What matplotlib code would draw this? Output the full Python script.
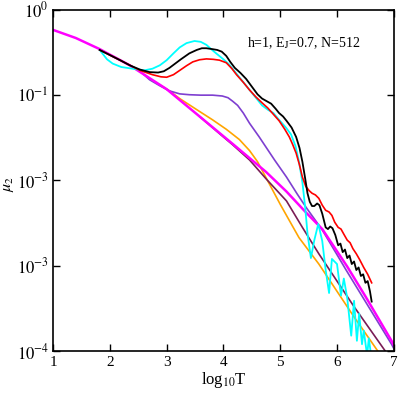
import matplotlib
matplotlib.use("Agg")
import matplotlib.pyplot as plt
import numpy as np

plt.rcParams["font.family"] = ["Liberation Serif", "DejaVu Serif"]
plt.rcParams["mathtext.fontset"] = "stix"

# curves: x = log10 T, values = log10 mu_2
magenta_x = [1.0, 1.4, 1.82, 2.35, 3.0, 3.58, 4.16, 4.75, 5.11, 5.46, 5.74, 6.18, 6.51, 6.96, 7.0]
magenta_l = [-0.235, -0.33, -0.46, -0.65, -0.93, -1.25, -1.57, -1.90, -2.13, -2.38, -2.57, -3.01, -3.37, -3.88, -3.93]

maroon_x = [3.58, 4.0, 4.16, 4.46, 4.75, 5.11, 5.39, 5.68, 6.0, 6.3, 6.86, 7.0]
maroon_l = [-1.25, -1.49, -1.58, -1.76, -1.98, -2.24, -2.55, -2.86, -3.18, -3.48, -4.01, -4.15]

orange_x = [2.88, 3.05, 3.23, 3.53, 3.81, 4.05, 4.28, 4.46, 4.60, 4.72, 5.0, 5.33, 5.68, 6.0, 6.3, 6.77, 6.85]
orange_l = [-0.88, -0.95, -1.04, -1.17, -1.29, -1.40, -1.52, -1.65, -1.78, -1.93, -2.28, -2.67, -2.98, -3.30, -3.60, -4.05, -4.13]

purple_x = [2.6, 2.7, 2.88, 3.05, 3.23, 3.4, 3.6, 3.81, 3.98, 4.08, 4.16, 4.25, 4.35, 4.46, 4.63, 4.75, 4.9,
            5.11, 5.3, 5.46, 5.6, 5.74, 5.91, 6.16, 6.5, 6.96, 7.0]
purple_l = [-0.76, -0.82, -0.89, -0.95, -0.985, -0.995, -1.0, -1.0, -1.01, -1.03, -1.07, -1.12, -1.21, -1.33, -1.49, -1.61, -1.76,
            -1.96, -2.16, -2.32, -2.45, -2.58, -2.77, -3.05, -3.42, -3.92, -3.97]

red_x = [1.82, 2.18, 2.53, 2.75, 2.9, 3.0, 3.12, 3.23, 3.35, 3.46, 3.58, 3.70, 3.82, 3.93, 4.05, 4.15, 4.23, 4.35,
         4.46, 4.57, 4.68, 4.78, 4.86, 4.98, 5.08, 5.16, 5.22, 5.28, 5.34, 5.39, 5.45, 5.51, 5.56, 5.62, 5.68,
         5.74, 5.8, 5.86, 5.91, 5.96, 6.02, 6.07, 6.12, 6.18, 6.23, 6.28, 6.34, 6.40, 6.47, 6.54, 6.61]
red_l = [-0.47, -0.59, -0.71, -0.76, -0.785, -0.79, -0.76, -0.71, -0.655, -0.61, -0.585, -0.575, -0.58, -0.59, -0.62, -0.69, -0.76, -0.85,
         -0.94, -1.02, -1.09, -1.15, -1.21, -1.30, -1.40, -1.49, -1.58, -1.68, -1.82, -1.96, -2.07, -2.12, -2.15, -2.17, -2.21,
         -2.29, -2.35, -2.37, -2.41, -2.49, -2.55, -2.57, -2.63, -2.70, -2.73, -2.80, -2.86, -2.93, -3.02, -3.10, -3.20]

black_x = [1.82, 2.0, 2.18, 2.35, 2.53, 2.7, 2.85, 2.95, 3.05, 3.15, 3.25, 3.4, 3.53, 3.62, 3.70, 3.8, 3.89, 3.97,
           4.05, 4.12, 4.2, 4.3, 4.40, 4.5, 4.6, 4.68, 4.76, 4.84, 4.92, 4.98, 5.05, 5.11, 5.2, 5.28, 5.34,
           5.39, 5.44, 5.48, 5.52, 5.56, 5.60, 5.65, 5.69, 5.74, 5.80, 5.84, 5.88, 5.92, 5.97, 6.02,
           6.06, 6.10, 6.14, 6.18, 6.22, 6.26, 6.30, 6.34, 6.38, 6.42, 6.46, 6.50, 6.54, 6.58, 6.61]
black_l = [-0.47, -0.53, -0.59, -0.65, -0.70, -0.73, -0.735, -0.72, -0.68, -0.63, -0.58, -0.51, -0.47, -0.45, -0.45, -0.46, -0.47, -0.49,
           -0.54, -0.61, -0.68, -0.74, -0.81, -0.90, -0.99, -1.04, -1.07, -1.10, -1.16, -1.21, -1.25, -1.30, -1.38, -1.49, -1.62,
           -1.78, -1.98, -2.15, -2.25, -2.30, -2.30, -2.27, -2.29, -2.39, -2.55, -2.57, -2.54, -2.56, -2.64, -2.76,
           -2.74, -2.84, -2.81, -2.91, -2.88, -2.98, -2.95, -3.05, -3.02, -3.12, -3.10, -3.20, -3.18, -3.30, -3.42]

cyan_x = [1.82, 1.95, 2.05, 2.2, 2.4, 2.6, 2.75, 2.88, 3.0, 3.12, 3.23, 3.35, 3.49, 3.6, 3.70, 3.8, 3.89, 4.0,
          4.1, 4.28, 4.51, 4.68, 4.78, 4.88, 4.98, 5.1, 5.19, 5.27, 5.33, 5.39, 5.44, 5.48, 5.54, 5.60, 5.67,
          5.74, 5.80, 5.86, 5.91, 6.0, 6.07, 6.12, 6.18, 6.25, 6.30, 6.35, 6.39, 6.44, 6.47, 6.53, 6.56, 6.61]
cyan_l = [-0.47, -0.58, -0.63, -0.67, -0.69, -0.71, -0.69, -0.65, -0.59, -0.51, -0.44, -0.39, -0.365, -0.375, -0.41, -0.47, -0.52, -0.58,
          -0.64, -0.79, -0.98, -1.12, -1.17, -1.21, -1.29, -1.38, -1.46, -1.60, -1.78, -2.02, -2.32, -2.62, -2.91, -2.70, -2.51,
          -2.71, -3.05, -3.32, -2.92, -2.98, -3.35, -3.15, -3.38, -3.82, -3.41, -3.88, -3.56, -3.92, -3.76, -4.05, -3.85, -4.1]

ytick_pos = [1, 1e-1, 1e-2, 1e-3, 1e-4]
ytick_lab = ["$10^{0}$", "$10^{-1}$", "$10^{-3}$", "$10^{-3}$", "$10^{-4}$"]
xtick_pos = [1, 2, 3, 4, 5, 6, 7]

fig = plt.figure(figsize=(3.99, 3.94), dpi=100)
ax = fig.add_axes([0.133, 0.109, 0.854, 0.866])

curves = [
    (orange_x, orange_l, "#ffa500", 1.2),
    (maroon_x, maroon_l, "#7a1c55", 1.2),
    (purple_x, purple_l, "#7e3fd0", 1.2),
    (magenta_x, magenta_l, "#ff00ff", 1.8),
    (cyan_x, cyan_l, "#00ffff", 1.3),
    (red_x, red_l, "#ff0000", 1.2),
    (black_x, black_l, "black", 1.3),
]
for xs, ls, c, w in curves:
    ax.plot(xs, 10 ** np.array(ls), color=c, lw=w)

ax.set_yscale("log")
ax.set_xlim(1, 7)
ax.set_ylim(1e-4, 1)
ax.set_xticks(xtick_pos)
ax.set_yticks(ytick_pos)
ax.set_yticklabels(ytick_lab)
ax.minorticks_off()
ax.tick_params(direction="in", top=True, right=True, length=5, width=1, labelsize=11)
ax.tick_params(axis="y", labelsize=12, pad=3)
for s in ax.spines.values():
    s.set_linewidth(1.2)

ax.set_xlabel("log$_{10}$T", fontsize=12, labelpad=1)
ax.set_ylabel(r"$\mu_2$", fontsize=11.5)
ax.yaxis.set_label_coords(-0.108, 0.49)
ax.text(4.42, 10 ** -0.39, "h=1, E$_{\\rm J}$=0.7, N=512", fontsize=10, va="center")

fig.savefig("out.png", dpi=100)
